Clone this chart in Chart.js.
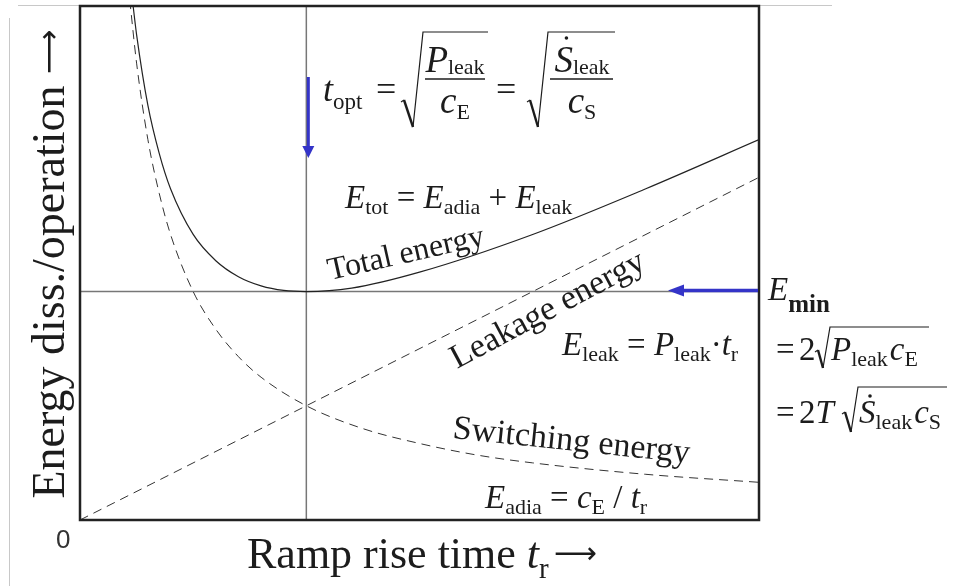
<!DOCTYPE html>
<html>
<head>
<meta charset="utf-8">
<script src="https://cdn.jsdelivr.net/npm/chart.js@4.4.1/dist/chart.umd.min.js"></script>
<style>
body { margin: 0; background: #fff; }
</style>
</head>
<body>
<canvas id="energyChart" width="972" height="586"></canvas>
<script>
// values (t in units of t_opt, E in units of E_min / 2)
var riseTimes = [0.22, 0.25, 0.3, 0.35, 0.4, 0.5, 0.6, 0.7, 0.8, 1.0, 1.25, 1.5, 1.75, 2.0, 2.5, 3.0];
var switchingEnergy = [4.55, 4.0, 3.33, 2.86, 2.5, 2.0, 1.67, 1.43, 1.25, 1.0, 0.8, 0.67, 0.57, 0.5, 0.4, 0.33];
var totalTimes = [0.23, 0.25, 0.3, 0.35, 0.4, 0.5, 0.6, 0.7, 0.8, 0.9, 1.0, 1.2, 1.5, 2.0, 2.5, 3.0];
var totalEnergy = [4.58, 4.25, 3.63, 3.21, 2.9, 2.5, 2.27, 2.13, 2.05, 2.01, 2.0, 2.03, 2.17, 2.5, 2.9, 3.33];
var leakTimes = [0, 3];
var leakageEnergy = [0, 3];
var tOpt = 1;
var eMin = 2;
var xRange = [0, 3];
var yRange = [0, 4.5];
var originLabel = '0';

var SERIF = '"Liberation Serif", "Times New Roman", serif';
var ARROW_FONT = '"DejaVu Sans", sans-serif';
var INK = '#1c1c1c';
var BLUE = '#3434c8';

function font(style, size) {
    return style + ' ' + size + 'px ' + SERIF;
}
var IT = font('italic', 33);
var RM = font('normal', 33);
var SUB = font('normal', 22);

function pairs(xs, ys) {
    return xs.map(function (x, i) { return { x: x, y: ys[i] }; });
}

// draws a row of [text, font, dy, extraSpace] pieces, returns end x
function drawRun(ctx, x, y, parts) {
    parts.forEach(function (p) {
        ctx.font = p[1];
        ctx.fillText(p[0], x, y + (p[2] || 0));
        x += ctx.measureText(p[0]).width + (p[3] || 0);
    });
    return x;
}

function runWidth(ctx, parts) {
    var w = 0;
    parts.forEach(function (p) {
        ctx.font = p[1];
        w += ctx.measureText(p[0]).width + (p[3] || 0);
    });
    return w;
}

function drawSqrt(ctx, x0, yTick, xBot, yBot, xTop, yTop, x1) {
    ctx.lineCap = 'butt';
    ctx.beginPath();
    ctx.lineWidth = 1.2;
    ctx.moveTo(x0 - 3, yTick + 2);
    ctx.lineTo(x0, yTick);
    ctx.stroke();
    ctx.beginPath();
    ctx.lineWidth = 2.4;
    ctx.moveTo(x0, yTick);
    ctx.lineTo(xBot, yBot);
    ctx.stroke();
    ctx.beginPath();
    ctx.lineWidth = 1.2;
    ctx.moveTo(xBot, yBot);
    ctx.lineTo(xTop, yTop);
    ctx.lineTo(x1, yTop);
    ctx.stroke();
}

function dotAbove(ctx, x, y) {
    ctx.beginPath();
    ctx.arc(x, y, 1.8, 0, Math.PI * 2);
    ctx.fill();
}

function rotatedText(ctx, text, x, y, deg, f) {
    ctx.save();
    ctx.translate(x, y);
    ctx.rotate(deg * Math.PI / 180);
    ctx.font = f;
    ctx.fillText(text, 0, 0);
    ctx.restore();
}

var annotations = {
    id: 'annotations',
    afterDraw: function (chart) {
        var ctx = chart.ctx;
        var a = chart.chartArea;
        var xs = chart.scales.x, ys = chart.scales.y;
        ctx.save();

        // faint slide frame
        ctx.strokeStyle = '#c8c8c8';
        ctx.lineWidth = 1;
        ctx.beginPath();
        ctx.moveTo(18, 5.5);
        ctx.lineTo(832, 5.5);
        ctx.moveTo(9.5, 18);
        ctx.lineTo(9.5, 586);
        ctx.stroke();

        // plot frame
        ctx.strokeStyle = '#222';
        ctx.lineWidth = 2.5;
        ctx.strokeRect(a.left, a.top, a.right - a.left, a.bottom - a.top);

        // blue arrows
        var xo = xs.getPixelForValue(tOpt) + 2;
        var ye = ys.getPixelForValue(eMin) - 1;
        ctx.strokeStyle = BLUE;
        ctx.fillStyle = BLUE;
        ctx.lineWidth = 3;
        ctx.beginPath();
        ctx.moveTo(xo, 77);
        ctx.lineTo(xo, 148);
        ctx.stroke();
        ctx.beginPath();
        ctx.moveTo(xo - 6, 146);
        ctx.lineTo(xo + 6, 146);
        ctx.lineTo(xo, 158);
        ctx.closePath();
        ctx.fill();
        ctx.lineWidth = 3.5;
        ctx.beginPath();
        ctx.moveTo(a.right - 1, ye);
        ctx.lineTo(680, ye);
        ctx.stroke();
        ctx.beginPath();
        ctx.moveTo(684, ye - 6);
        ctx.lineTo(684, ye + 6);
        ctx.lineTo(668, ye);
        ctx.closePath();
        ctx.fill();

        ctx.fillStyle = INK;
        ctx.strokeStyle = INK;
        ctx.textBaseline = 'alphabetic';
        ctx.textAlign = 'left';

        // axis titles
        ctx.save();
        ctx.translate(64, 264);
        ctx.rotate(-Math.PI / 2);
        var yTitle = [
            ['Energy diss./operation ', font('normal', 46)],
            ['\u27f6', '31px ' + ARROW_FONT, -5]
        ];
        drawRun(ctx, -runWidth(ctx, yTitle) / 2, 0, yTitle);
        ctx.restore();

        drawRun(ctx, 247, 568, [
            ['Ramp rise time ', font('normal', 44)],
            ['t', font('italic', 44)],
            ['r', font('normal', 29), 10, 5],
            ['\u27f6', '30px ' + ARROW_FONT, -5]
        ]);

        ctx.font = '26px "Liberation Sans", Arial, sans-serif';
        ctx.fillStyle = '#333';
        ctx.fillText(originLabel, 56, 548);
        ctx.fillStyle = INK;

        // t_opt formula
        drawRun(ctx, 323, 101, [['t', font('italic', 36)], ['opt', font('normal', 23), 8]]);
        drawRun(ctx, 376, 101, [['=', font('normal', 36)]]);
        drawSqrt(ctx, 404, 100, 413, 127, 423, 32, 488);
        ctx.lineWidth = 1.6;
        ctx.beginPath();
        ctx.moveTo(425, 79);
        ctx.lineTo(485, 79);
        ctx.stroke();
        var num1 = [['P', font('italic', 37)], ['leak', SUB, 2]];
        drawRun(ctx, 455 - runWidth(ctx, num1) / 2, 72, num1);
        var den1 = [['c', font('italic', 37)], ['E', SUB, 6]];
        drawRun(ctx, 455 - runWidth(ctx, den1) / 2, 113, den1);
        drawRun(ctx, 496, 101, [['=', font('normal', 36)]]);
        drawSqrt(ctx, 530, 100, 538, 127, 548, 32, 615);
        ctx.lineWidth = 1.6;
        ctx.beginPath();
        ctx.moveTo(550, 79);
        ctx.lineTo(613, 79);
        ctx.stroke();
        var num2 = [['S', font('italic', 37)], ['leak', SUB, 2]];
        var n2x = 582 - runWidth(ctx, num2) / 2;
        drawRun(ctx, n2x, 72, num2);
        dotAbove(ctx, n2x + 12, 38);
        var den2 = [['c', font('italic', 37)], ['S', SUB, 6]];
        drawRun(ctx, 582 - runWidth(ctx, den2) / 2, 113, den2);

        // sum formula
        drawRun(ctx, 345, 208, [
            ['E', IT], ['tot', SUB, 6], [' = ', RM], ['E', IT], ['adia', SUB, 6],
            [' + ', RM], ['E', IT], ['leak', SUB, 6]
        ]);

        // leakage formula
        drawRun(ctx, 562, 355, [
            ['E', IT], ['leak', SUB, 6], [' = ', RM], ['P', IT], ['leak', SUB, 6],
            ['\u00b7', RM], ['t', IT], ['r', SUB, 6]
        ]);

        // switching formula
        drawRun(ctx, 485, 508, [
            ['E', IT], ['adia', SUB, 6], [' = ', RM], ['c', IT], ['E', SUB, 6],
            [' / ', RM], ['t', IT], ['r', SUB, 6]
        ]);

        // E_min formulas
        drawRun(ctx, 768, 300, [['E', IT], ['min', 'bold 25px ' + SERIF, 12]]);
        drawRun(ctx, 776, 360, [['=', RM]]);
        drawRun(ctx, 799, 360, [['2', RM]]);
        drawSqrt(ctx, 818, 350, 823, 368, 830, 327, 929);
        drawRun(ctx, 831, 360, [['P', IT], ['leak', SUB, 6, 2], ['c', IT], ['E', SUB, 6]]);
        drawRun(ctx, 776, 423, [['=', RM]]);
        drawRun(ctx, 799, 423, [['2', RM], ['T', IT]]);
        drawSqrt(ctx, 845, 412, 851, 432, 858, 387, 947);
        drawRun(ctx, 859, 423, [['S', IT], ['leak', SUB, 6, 2], ['c', IT], ['S', SUB, 6]]);
        dotAbove(ctx, 870, 396);

        // curve labels
        rotatedText(ctx, 'Total energy', 330, 280, -12.7, font('normal', 32));
        rotatedText(ctx, 'Leakage energy', 457, 369, -28, font('normal', 34));
        rotatedText(ctx, 'Switching energy', 452, 438, 6, font('normal', 34));

        ctx.restore();
    }
};

var ctx = document.getElementById('energyChart').getContext('2d');
var chartInstance = new Chart(ctx, {
    type: 'line',
    data: {
        datasets: [
            {
                label: 'Total energy',
                data: pairs(totalTimes, totalEnergy),
                borderColor: '#222',
                borderWidth: 1.2,
                cubicInterpolationMode: 'monotone'
            },
            {
                label: 'Switching energy',
                data: pairs(riseTimes, switchingEnergy),
                borderColor: '#333',
                borderWidth: 1,
                borderDash: [9, 6],
                cubicInterpolationMode: 'monotone'
            },
            {
                label: 'Leakage energy',
                data: pairs(leakTimes, leakageEnergy),
                borderColor: '#333',
                borderWidth: 1,
                borderDash: [9, 6]
            },
            {
                label: 't_opt',
                data: [{ x: tOpt, y: yRange[0] }, { x: tOpt, y: yRange[1] }],
                borderColor: '#777',
                borderWidth: 1.5
            },
            {
                label: 'E_min',
                data: [{ x: xRange[0], y: eMin }, { x: xRange[1], y: eMin }],
                borderColor: '#777',
                borderWidth: 1.5
            }
        ]
    },
    options: {
        responsive: false,
        animation: false,
        devicePixelRatio: 1,
        layout: { padding: { left: 80, right: 213, top: 6, bottom: 66 } },
        elements: { point: { radius: 0 } },
        plugins: { legend: { display: false }, tooltip: { enabled: false } },
        scales: {
            x: { type: 'linear', min: xRange[0], max: xRange[1], display: false },
            y: { type: 'linear', min: yRange[0], max: yRange[1], display: false }
        }
    },
    plugins: [annotations]
});
</script>
</body>
</html>
